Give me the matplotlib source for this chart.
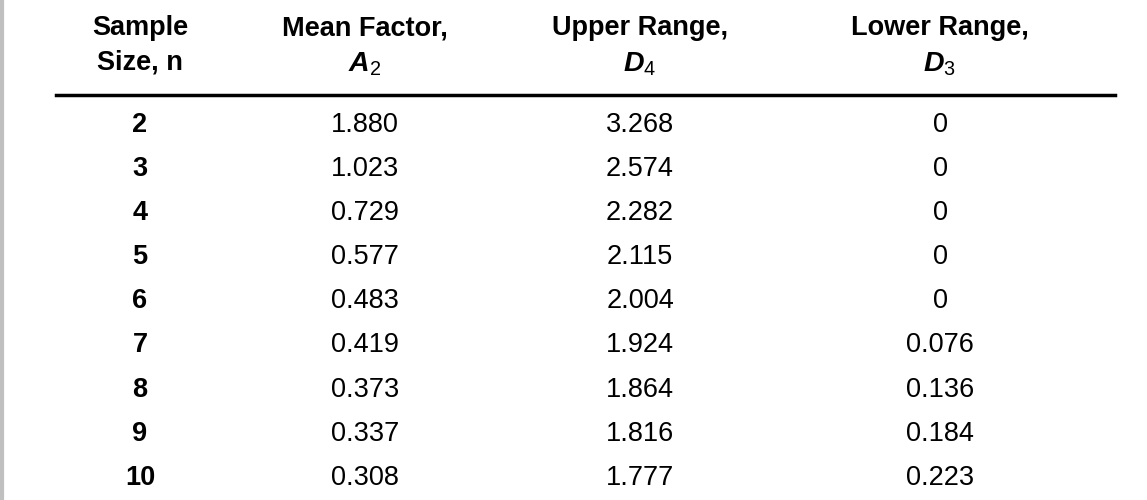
import matplotlib.pyplot as plt
from matplotlib.lines import Line2D

plt.rcParams['font.family'] = ['Liberation Sans', 'DejaVu Sans']
plt.rcParams['mathtext.fontset'] = 'custom'
plt.rcParams['mathtext.it'] = 'Liberation Sans:italic'
plt.rcParams['mathtext.bfit'] = 'Liberation Sans:bold:italic'
plt.rcParams['mathtext.rm'] = 'Liberation Sans'

sizes = ['2', '3', '4', '5', '6', '7', '8', '9', '10']
a2 = ['1.880', '1.023', '0.729', '0.577', '0.483', '0.419', '0.373', '0.337', '0.308']
d4 = ['3.268', '2.574', '2.282', '2.115', '2.004', '1.924', '1.864', '1.816', '1.777']
d3 = ['0', '0', '0', '0', '0', '0.076', '0.136', '0.184', '0.223']
head1 = ['Sample', 'Mean Factor,', 'Upper Range,', 'Lower Range,']
head2 = ['Size, n', r'$\boldsymbol{A}_{\mathrm{2}}$', r'$\boldsymbol{D}_{\mathrm{4}}$', r'$\boldsymbol{D}_{\mathrm{3}}$']

W, H = 1147, 500
fig = plt.figure(figsize=(W / 100, H / 100), dpi=100)
ax = fig.add_axes([0, 0, 1, 1])
ax.set_xlim(0, W)
ax.set_ylim(H, 0)
ax.axis('off')

xs = [140, 365, 640, 940]
fs = 19.5

# gray left edge
ax.add_line(Line2D([2, 2], [0, H], color='#c0c0c0', lw=3))

for x, h in zip(xs, head1):
    ax.text(x, 28, h, ha='center', va='center', fontsize=fs, fontweight='bold')
ax.text(xs[0], 62, head2[0], ha='center', va='center', fontsize=fs, fontweight='bold')
for x, h in zip(xs[1:], head2[1:]):
    ax.text(x, 64, h, ha='center', va='center', fontsize=fs + 1)

ax.add_line(Line2D([56, 1115], [95, 95], color='black', lw=2.5))

for i in range(len(sizes)):
    y = 125 + i * 44.1
    ax.text(xs[0], y, sizes[i], ha='center', va='center', fontsize=fs, fontweight='bold')
    ax.text(xs[1], y, a2[i], ha='center', va='center', fontsize=fs)
    ax.text(xs[2], y, d4[i], ha='center', va='center', fontsize=fs)
    ax.text(xs[3], y, d3[i], ha='center', va='center', fontsize=fs)

fig.savefig('out.png', dpi=100)
